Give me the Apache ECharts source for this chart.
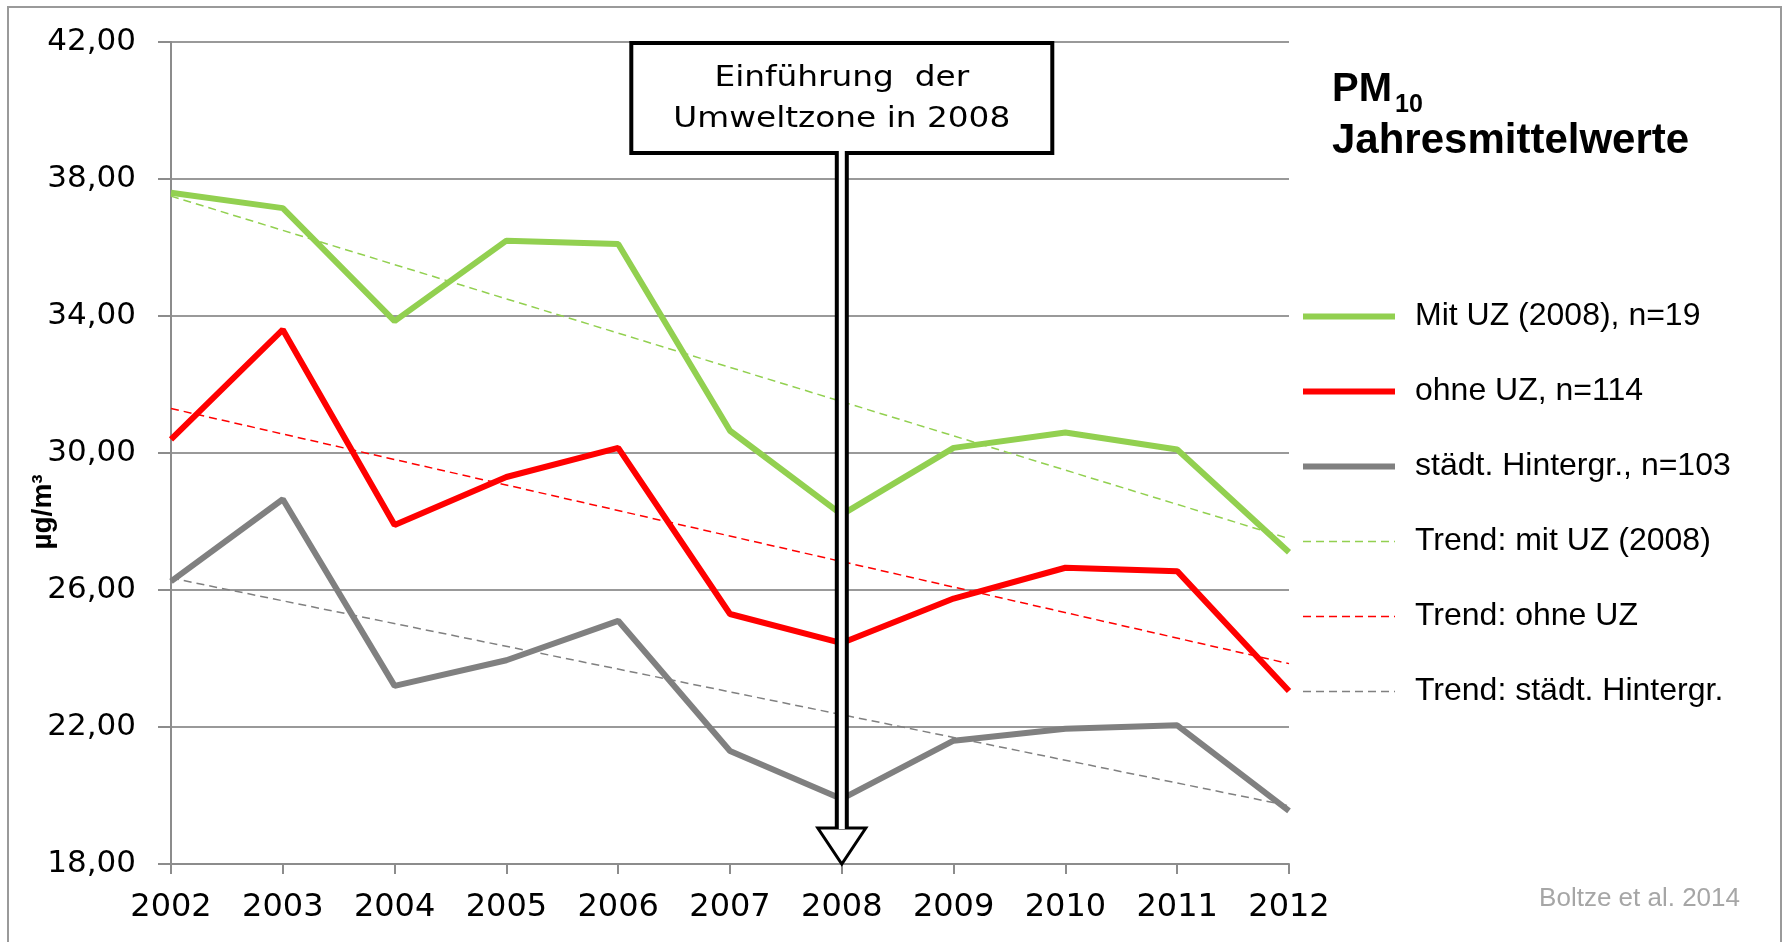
<!DOCTYPE html>
<html>
<head>
<meta charset="utf-8">
<script src="https://cdn.jsdelivr.net/npm/echarts@6/dist/echarts.min.js"></script>
<style>
html,body{margin:0;padding:0;background:#fff;}
#c{width:1785px;height:942px;}
</style>
</head>
<body>
<div id="c"></div>
<script>
// ---- data ----
const years = ['2002','2003','2004','2005','2006','2007','2008','2009','2010','2011','2012'];
const mitUZ = [37.6, 37.15, 33.85, 36.2, 36.1, 30.65, 28.2, 30.15, 30.6, 30.1, 27.1];
const ohneUZ = [30.4, 33.6, 27.9, 29.3, 30.15, 25.3, 24.45, 25.75, 26.65, 26.55, 23.05];
const hintergrund = [26.25, 28.65, 23.2, 23.95, 25.1, 21.3, 19.9, 21.6, 21.95, 22.05, 19.55];
// trend lines: value at first and at last year
const trendMitUZ = [37.5, 27.5];
const trendOhneUZ = [31.3, 23.85];
const trendHintergrund = [26.35, 19.7];
const yMin = 18, yMax = 42, yStep = 4;
const names = ['Mit UZ (2008), n=19', 'ohne UZ, n=114', 'städt. Hintergr., n=103',
               'Trend: mit UZ (2008)', 'Trend: ohne UZ', 'Trend: städt. Hintergr.'];
const annotationYear = '2008';
const annotationLines = ['Einführung  der', 'Umweltzone in 2008'];
const titleMain = 'PM', titleSub = '10', titleLine2 = 'Jahresmittelwerte';
const sourceText = 'Boltze et al. 2014';
const yName = 'µg/m³';

// ---- styles ----
const GREEN = '#92D050', RED = '#FF0000', GRAY = '#808080';
const AXIS = '#8c8c8c';
const SOLID_W = 6, DASH_W = 1.5, DASH = [8,5];

function trend(vals){ return [[years[0], vals[0]], [years[years.length-1], vals[1]]]; }
function solid(name, data, color){
  return {name, type:'line', data, symbol:'none', z:3, color,
          lineStyle:{color, width:SOLID_W}, itemStyle:{color}};
}
function dashed(name, data, color){
  return {name, type:'line', data, symbol:'none', z:2, color,
          lineStyle:{color, width:DASH_W, type:DASH}, itemStyle:{color}};
}
const legendColors = [GREEN, RED, GRAY, GREEN, RED, GRAY];

const chart = echarts.init(document.getElementById('c'), null, {renderer:'canvas'});
chart.setOption({
  animation:false,
  backgroundColor:'#fff',
  grid:{left:171, right:496, top:42, bottom:78},
  legend:{
    orient:'vertical', left:1295, top:294,
    itemWidth:92, itemHeight:14, itemGap:40,
    itemStyle:{color:'rgba(0,0,0,0)', borderColor:'rgba(0,0,0,0)', borderWidth:0},
    textStyle:{fontFamily:'"Liberation Sans", Arial, sans-serif', fontSize:32, color:'#000',
               lineHeight:35, padding:[0,0,0,15]},
    data:names.map((n,i) => ({
      name:n,
      itemStyle:{color:'rgba(0,0,0,0)', borderColor:'rgba(0,0,0,0)', borderWidth:0},
      lineStyle: i < 3 ? {color:legendColors[i], width:SOLID_W, type:'solid'}
                       : {color:legendColors[i], width:DASH_W, type:DASH}
    }))
  },
  xAxis:{
    type:'category', data:years, boundaryGap:false,
    axisLine:{lineStyle:{color:AXIS, width:2}},
    axisTick:{show:true, length:10, lineStyle:{color:AXIS, width:2}},
    axisLabel:{fontFamily:'"DejaVu Sans", sans-serif', fontSize:32, color:'#000', margin:28},
    splitLine:{show:false}
  },
  yAxis:{
    type:'value', min:yMin, max:yMax, interval:yStep,
    axisLine:{show:true, lineStyle:{color:AXIS, width:2}},
    axisTick:{show:true, length:13, lineStyle:{color:AXIS, width:2}},
    axisLabel:{fontFamily:'"DejaVu Sans", sans-serif', fontSize:31, color:'#000', margin:35,
               formatter:v => v.toFixed(2).replace('.', ',')},
    splitLine:{show:true, lineStyle:{color:'#999', width:2}}
  },
  series:[
    solid(names[0], mitUZ, GREEN),
    solid(names[1], ohneUZ, RED),
    solid(names[2], hintergrund, GRAY),
    dashed(names[3], trend(trendMitUZ), GREEN),
    dashed(names[4], trend(trendOhneUZ), RED),
    dashed(names[5], trend(trendHintergrund), GRAY)
  ]
});

// ---- annotations (box + arrow at 2008, title, source) ----
const cx = chart.convertToPixel({xAxisIndex:0}, annotationYear);
const yBottom = chart.convertToPixel({yAxisIndex:0}, yMin);
const boxW = 421, boxH = 110, boxTop = 43;
const boxLeft = cx - boxW/2;
const boxBottom = boxTop + boxH;
const headW = 48, headH = 36;
const headTop = yBottom - headH;
const sans = '"Liberation Sans", Arial, sans-serif';

chart.setOption({
  graphic:[
    {type:'rect', z:0, silent:true, shape:{x:8, y:7, width:1773, height:960},
     style:{fill:'none', stroke:'#9a9a9a', lineWidth:2}},
    // arrow shaft
    {type:'rect', z:100, silent:true, shape:{x:cx-7, y:boxBottom, width:14, height:headTop-boxBottom},
     style:{fill:'#000'}},
    {type:'polygon', z:101, silent:true,
     shape:{points:[[cx-headW/2, headTop],[cx+headW/2, headTop],[cx, yBottom]]},
     style:{fill:'#fff', stroke:'#000', lineWidth:3, lineJoin:'miter'}},
    // box
    {type:'rect', z:102, silent:true, shape:{x:boxLeft, y:boxTop, width:boxW, height:boxH},
     style:{fill:'#fff', stroke:'#000', lineWidth:4}},
    {type:'rect', z:103, silent:true, shape:{x:cx-3, y:boxBottom-4, width:6, height:headTop-boxBottom+5},
     style:{fill:'#fff'}},
    {type:'text', z:104, silent:true, x:cx, y:boxTop+36, scaleX:1.17,
     style:{text:annotationLines[0], font:'28px "DejaVu Sans", sans-serif', fill:'#000',
            align:'center', verticalAlign:'middle'}},
    {type:'text', z:104, silent:true, x:cx, y:boxTop+77, scaleX:1.17,
     style:{text:annotationLines[1], font:'28px "DejaVu Sans", sans-serif', fill:'#000',
            align:'center', verticalAlign:'middle'}},
    // title
    {type:'text', z:104, silent:true, x:1332, y:90,
     style:{text:titleMain, font:'bold 40px '+sans, fill:'#000', align:'left', verticalAlign:'middle'}},
    {type:'text', z:104, silent:true, x:1395, y:105,
     style:{text:titleSub, font:'bold 25px '+sans, fill:'#000', align:'left', verticalAlign:'middle'}},
    {type:'text', z:104, silent:true, x:1332, y:141,
     style:{text:titleLine2, font:'bold 42px '+sans, fill:'#000', align:'left', verticalAlign:'middle'}},
    // y axis name
    {type:'text', z:104, silent:true, x:43, y:512, rotation:Math.PI/2,
     style:{text:yName, font:'bold 28px '+sans, fill:'#000', align:'center', verticalAlign:'middle'}},
    // source
    {type:'text', z:104, silent:true, x:1740, y:899,
     style:{text:sourceText, font:'26px '+sans, fill:'#a6a6a6', align:'right', verticalAlign:'middle'}}
  ]
});
</script>
</body>
</html>
